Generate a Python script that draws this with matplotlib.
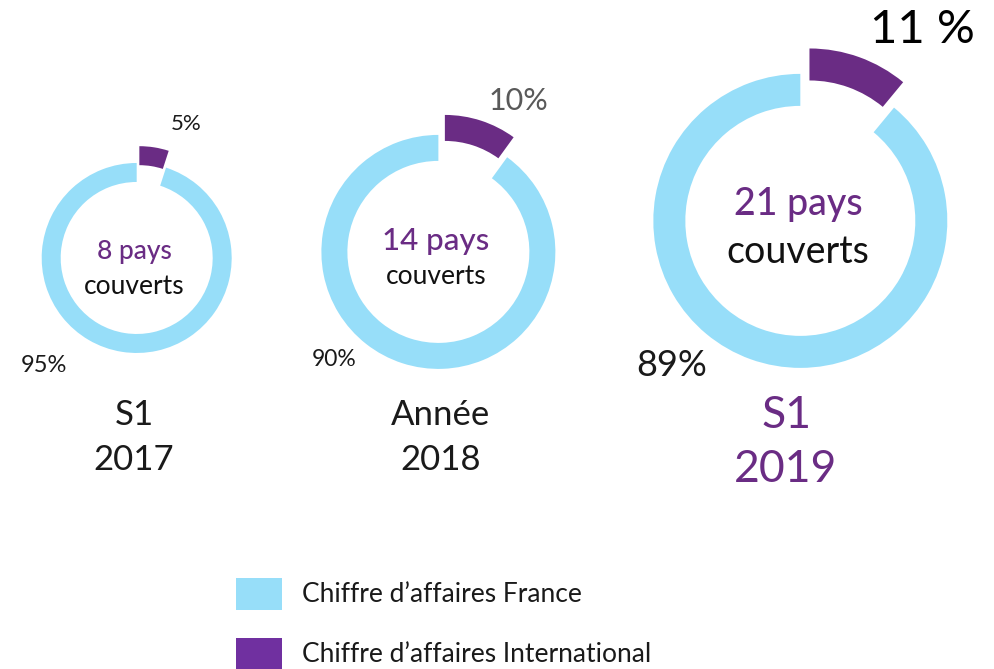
import matplotlib
matplotlib.use("Agg")
import matplotlib.pyplot as plt
from matplotlib.patches import Rectangle

plt.rcParams['font.family'] = ['Lato', 'DejaVu Sans']

# ---- data ----
periods = ["S1\n2017", "Année\n2018", "S1\n2019"]
france = [95, 90, 89]
international = [5, 10, 11]
countries = [8, 14, 21]
france_labels = ["95%", "90%", "89%"]
intl_labels = ["5%", "10%", "11 %"]
legend_labels = ["Chiffre d’affaires France", "Chiffre d’affaires International"]

# ---- style / layout ----
BLUE = "#97DEF9"
PURPLE = "#6A2C84"
PURPLE_LEG = "#7030A0"
W, H = 995, 669

def Y(py):
    return H - py

centers = [(137, 256), (439, 250), (801, 219)]
radii = [95, 117, 147]
widths = [19, 26, 32]
explodes = [15, 19, 25]
center_fs = [19, 22.5, 27]
couverts_fs = [19, 19, 27]
pays_y = [251, 241, 204]
couv_y = [286, 277, 252]
intl_pos = [(186, 124), (518, 101), (922, 30)]
intl_fs = [16, 22, 34]
intl_col = ["#1a1a1a", "#595959", "#000000"]
fr_pos = [(44, 366), (334, 360), (672, 366)]
fr_fs = [17, 16.5, 26]
per_x = [134, 441, 786]
per_y1 = [415, 415, 415]
per_y2 = [460, 460, 469]
per_fs = [25, 25, 32]
per_col = ["#1a1a1a", "#1a1a1a", PURPLE]

fig = plt.figure(figsize=(W / 100, H / 100), dpi=100)
ax = fig.add_axes([0, 0, 1, 1])

for i in range(3):
    cx, cy = centers[i]
    ax.pie([international[i], france[i]], colors=[PURPLE, BLUE],
           startangle=90, counterclock=False, radius=radii[i],
           center=(cx, Y(cy)), explode=[explodes[i], 2],
           wedgeprops=dict(width=widths[i], linewidth=0))
    ax.text(cx - 3, Y(pays_y[i]), f"{countries[i]} pays", color=PURPLE,
            fontsize=center_fs[i], fontweight='medium', ha='center', va='center')
    ax.text(cx - 3, Y(couv_y[i]), "couverts", color="#111111",
            fontsize=couverts_fs[i], ha='center', va='center')
    ax.text(intl_pos[i][0], Y(intl_pos[i][1]), intl_labels[i], color=intl_col[i],
            fontsize=intl_fs[i], ha='center', va='center')
    ax.text(fr_pos[i][0], Y(fr_pos[i][1]), france_labels[i], color="#1a1a1a",
            fontsize=fr_fs[i], ha='center', va='center')
    line1, line2 = periods[i].split("\n")
    ax.text(per_x[i], Y(per_y1[i]), line1, color=per_col[i], fontsize=per_fs[i],
            ha='center', va='center')
    ax.text(per_x[i], Y(per_y2[i]), line2, color=per_col[i], fontsize=per_fs[i],
            ha='center', va='center')

# legend
leg_colors = [BLUE, PURPLE_LEG]
leg_y = [594, 654]
for c, lab, ly in zip(leg_colors, legend_labels, leg_y):
    ax.add_patch(Rectangle((236, Y(ly + 16)), 46, 32, facecolor=c, edgecolor='none'))
    ax.text(302, Y(ly), lab, fontsize=19, color="#1a1a1a", ha='left', va='center')

ax.set_xlim(0, W)
ax.set_ylim(0, H)
ax.set_aspect('auto')
ax.axis('off')
fig.savefig("out.png", dpi=100)
